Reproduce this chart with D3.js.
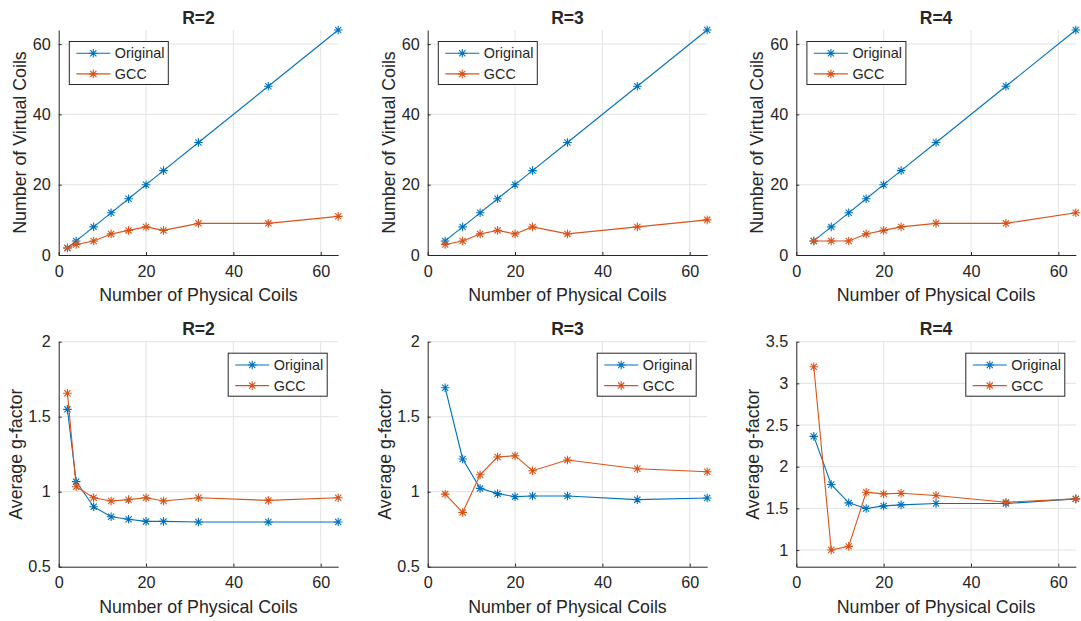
<!DOCTYPE html>
<html>
<head>
<meta charset="utf-8">
<script src="https://cdn.jsdelivr.net/npm/d3@7"></script>
<style>
  body { margin: 0; background: #fff; }
  text { font-family: "Liberation Sans", Arial, Helvetica, sans-serif; fill: #262626; }
</style>
</head>
<body>
<div id="chart"></div>
<script>
// data
const coilsR2 = [2, 4, 8, 12, 16, 20, 24, 32, 48, 64];
const coilsR34 = [4, 8, 12, 16, 20, 24, 32, 48, 64];

const virtOrigR2 = [2, 4, 8, 12, 16, 20, 24, 32, 48, 64];
const virtGccR2  = [2, 3, 4, 6, 7, 8, 7, 9, 9, 11];
const virtOrigR3 = [4, 8, 12, 16, 20, 24, 32, 48, 64];
const virtGccR3  = [3, 4, 6, 7, 6, 8, 6, 8, 10];
const virtOrigR4 = [4, 8, 12, 16, 20, 24, 32, 48, 64];
const virtGccR4  = [4, 4, 4, 6, 7, 8, 9, 9, 12];

const gOrigR2 = [1.549, 1.067, 0.90, 0.833, 0.816, 0.802, 0.802, 0.798, 0.798, 0.798];
const gGccR2  = [1.656, 1.033, 0.96, 0.938, 0.947, 0.96, 0.938, 0.96, 0.942, 0.96];
const gOrigR3 = [1.693, 1.218, 1.022, 0.987, 0.967, 0.971, 0.971, 0.947, 0.958];
const gGccR3  = [0.984, 0.862, 1.113, 1.231, 1.24, 1.14, 1.211, 1.153, 1.133];
const gOrigR4 = [2.364, 1.787, 1.566, 1.498, 1.53, 1.542, 1.558, 1.558, 1.614];
const gGccR4  = [3.199, 1.0, 1.044, 1.694, 1.674, 1.682, 1.654, 1.574, 1.614];

const xTicks = [0, 20, 40, 60];
const virtTicks = [0, 20, 40, 60];
const gTicks = [0.5, 1, 1.5, 2];
const gTicksR4 = [1, 1.5, 2, 2.5, 3, 3.5];

const seriesNames = ["Original", "GCC"];
const colors = ["#0072BD", "#D95319"];

const W = 1081, H = 621;
const svg = d3.select("#chart").append("svg")
    .attr("width", W).attr("height", H)
    .style("background", "#fff");

const lefts = [58.7, 427.7, 796.3];
const plotW = 279.5;

const panels = [
  {row: 0, col: 0, title: "R=2", x: coilsR2,  ys: [virtOrigR2, virtGccR2], yDom: [0, 64], yTicks: virtTicks, ylab: "Number of Virtual Coils", legend: "left"},
  {row: 0, col: 1, title: "R=3", x: coilsR34, ys: [virtOrigR3, virtGccR3], yDom: [0, 64], yTicks: virtTicks, ylab: "Number of Virtual Coils", legend: "left"},
  {row: 0, col: 2, title: "R=4", x: coilsR34, ys: [virtOrigR4, virtGccR4], yDom: [0, 64], yTicks: virtTicks, ylab: "Number of Virtual Coils", legend: "left"},
  {row: 1, col: 0, title: "R=2", x: coilsR2,  ys: [gOrigR2, gGccR2], yDom: [0.5, 2], yTicks: gTicks, ylab: "Average g-factor", legend: "right"},
  {row: 1, col: 1, title: "R=3", x: coilsR34, ys: [gOrigR3, gGccR3], yDom: [0.5, 2], yTicks: gTicks, ylab: "Average g-factor", legend: "right"},
  {row: 1, col: 2, title: "R=4", x: coilsR34, ys: [gOrigR4, gGccR4], yDom: [0.8, 3.5], yTicks: gTicksR4, ylab: "Average g-factor", legend: "right"}
];

const rowTop = [30, 341.7];
const plotH = 225;

// asterisk marker like matlab '*'
function star(r) {
  const d = r * 0.72;
  return `M${-r},0L${r},0M0,${-r}L0,${r}M${-d},${-d}L${d},${d}M${-d},${d}L${d},${-d}`;
}

panels.forEach(p => {
  const x0 = lefts[p.col], y0 = rowTop[p.row];
  const g = svg.append("g").attr("transform", `translate(${x0},${y0})`);

  const x = d3.scaleLinear().domain([0, 64]).range([0, plotW]);
  const y = d3.scaleLinear().domain(p.yDom).range([plotH, 0]);

  // grid
  g.append("g").selectAll("line").data(xTicks.filter(t => t > 0)).join("line")
    .attr("x1", d => x(d)).attr("x2", d => x(d))
    .attr("y1", 0).attr("y2", plotH)
    .attr("stroke", "#e3e3e3").attr("stroke-width", 1);
  g.append("g").selectAll("line").data(p.yTicks.filter(t => y(t) < plotH - 0.5)).join("line")
    .attr("x1", 0).attr("x2", plotW)
    .attr("y1", d => y(d)).attr("y2", d => y(d))
    .attr("stroke", "#e3e3e3").attr("stroke-width", 1);

  // axes (inward ticks)
  const fmt = d => String(d);
  const xAxis = g.append("g").attr("transform", `translate(0,${plotH})`)
    .call(d3.axisBottom(x).tickValues(xTicks).tickFormat(fmt).tickSize(-3).tickPadding(10).tickSizeOuter(0));
  const yAxis = g.append("g")
    .call(d3.axisLeft(y).tickValues(p.yTicks).tickFormat(fmt).tickSize(-3).tickPadding(8).tickSizeOuter(0));
  [xAxis, yAxis].forEach(a => {
    a.select(".domain").attr("stroke", "#262626");
    a.selectAll(".tick line").attr("stroke", "#262626");
    a.selectAll(".tick text").attr("fill", "#262626")
      .style("font-size", "16.2px")
      .style("font-family", '"Liberation Sans", Arial, sans-serif');
  });
  xAxis.selectAll(".tick text").attr("dy", "0.72em");

  // title
  g.append("text")
    .attr("x", plotW / 2).attr("y", -6.5)
    .attr("text-anchor", "middle")
    .style("font-size", "17.5px").style("font-weight", "bold")
    .text(p.title);

  // x label
  g.append("text")
    .attr("x", plotW / 2).attr("y", plotH + 46)
    .attr("text-anchor", "middle")
    .style("font-size", "17.8px")
    .text("Number of Physical Coils");

  // y label
  const ylx = p.row === 0 ? -33 : -37;
  g.append("text")
    .attr("transform", `translate(${ylx},${plotH / 2}) rotate(-90)`)
    .attr("text-anchor", "middle")
    .style("font-size", "17.8px")
    .text(p.ylab);

  // series
  const line = d3.line().x(d => x(d[0])).y(d => y(d[1]));
  p.ys.forEach((vals, i) => {
    const pts = p.x.map((xv, k) => [xv, vals[k]]);
    g.append("path").datum(pts)
      .attr("fill", "none").attr("stroke", colors[i]).attr("stroke-width", 1.1)
      .attr("d", line);
    g.append("g").selectAll("path").data(pts).join("path")
      .attr("transform", d => `translate(${x(d[0])},${y(d[1])})`)
      .attr("d", star(4.3))
      .attr("fill", "none").attr("stroke", colors[i]).attr("stroke-width", 1.1);
  });

  // legend
  const lw = 99, lh = 43;
  const lx = p.legend === "left" ? 10.6 : plotW - 11 - lw;
  const leg = g.append("g").attr("transform", `translate(${lx},11.5)`);
  leg.append("rect").attr("width", lw).attr("height", lh)
    .attr("fill", "#fff").attr("stroke", "#262626").attr("stroke-width", 1);
  seriesNames.forEach((name, i) => {
    const ly = 11.8 + i * 20.6;
    leg.append("line").attr("x1", 7).attr("x2", 41).attr("y1", ly).attr("y2", ly)
      .attr("stroke", colors[i]).attr("stroke-width", 1.1);
    leg.append("path").attr("transform", `translate(24,${ly})`).attr("d", star(4.3))
      .attr("fill", "none").attr("stroke", colors[i]).attr("stroke-width", 1.1);
    leg.append("text").attr("x", 45.5).attr("y", ly).attr("dy", "0.35em")
      .style("font-size", "14.4px").text(name);
  });
});
</script>
</body>
</html>
